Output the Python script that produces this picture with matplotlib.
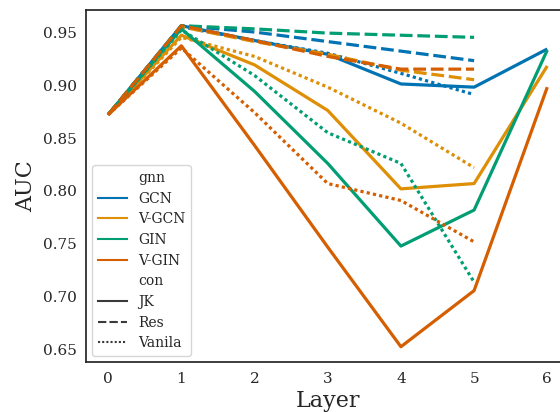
import matplotlib
matplotlib.use("Agg")
import matplotlib.pyplot as plt
from matplotlib.lines import Line2D

# AUC per layer
layers_jk = [0, 1, 2, 3, 4, 5, 6]
layers = [0, 1, 2, 3, 4, 5]

gcn_jk = [0.872, 0.956, 0.942, 0.929, 0.901, 0.898, 0.934]
gcn_res = [0.872, 0.956, 0.950, 0.941, 0.932, 0.923]
gcn_van = [0.872, 0.955, 0.942, 0.930, 0.911, 0.891]

vgcn_jk = [0.872, 0.947, 0.919, 0.876, 0.802, 0.807, 0.918]
vgcn_res = [0.872, 0.955, 0.941, 0.929, 0.914, 0.905]
vgcn_van = [0.872, 0.945, 0.927, 0.898, 0.864, 0.822]

gin_jk = [0.872, 0.953, 0.894, 0.826, 0.748, 0.782, 0.933]
gin_res = [0.872, 0.956, 0.953, 0.949, 0.947, 0.945]
gin_van = [0.872, 0.952, 0.909, 0.855, 0.826, 0.714]

vgin_jk = [0.872, 0.937, 0.843, 0.747, 0.653, 0.706, 0.898]
vgin_res = [0.872, 0.956, 0.942, 0.927, 0.915, 0.915]
vgin_van = [0.872, 0.935, 0.874, 0.807, 0.791, 0.752]

gnn_names = ["GCN", "V-GCN", "GIN", "V-GIN"]
con_names = ["JK", "Res", "Vanila"]
COLORS = ["#0173b2", "#de8f05", "#029e73", "#d55e00"]  # seaborn colorblind
DASHES = {"JK": (None, None), "Res": (4, 1.5), "Vanila": (1, 1)}

series = {
    "GCN": (gcn_jk, gcn_res, gcn_van),
    "V-GCN": (vgcn_jk, vgcn_res, vgcn_van),
    "GIN": (gin_jk, gin_res, gin_van),
    "V-GIN": (vgin_jk, vgin_res, vgin_van),
}

plt.rcParams["font.family"] = "DejaVu Serif"
TEXT = "#262626"

fig = plt.figure(figsize=(5.6, 4.12), dpi=100)
ax = fig.add_axes([0.154, 0.1214, 0.8625, 0.8543])

LW = 2.3
for name, color in zip(gnn_names, COLORS):
    for con, ys in zip(con_names, series[name]):
        xs = layers_jk if con == "JK" else layers
        line, = ax.plot(xs, ys, color=color, lw=LW, solid_capstyle="butt")
        if con != "JK":
            line.set_dashes(DASHES[con])

ax.set_xlim(-0.3, 6.3)
ax.set_ylim(0.6386, 0.9708)
ax.set_xticks(layers_jk)
ax.set_yticks([0.65, 0.70, 0.75, 0.80, 0.85, 0.90, 0.95])
ax.tick_params(length=0, pad=7, labelsize=11, labelcolor=TEXT)
ax.set_xlabel("Layer", fontsize=16, color=TEXT, labelpad=3)
ax.set_ylabel("AUC", fontsize=16, color=TEXT, labelpad=4)
for sp in ax.spines.values():
    sp.set_color(TEXT)
    sp.set_linewidth(1.25)

# seaborn-like legend with sub-titles
blank = Line2D([], [], color="none")
handles = [blank]
labels = ["gnn"]
for name, color in zip(gnn_names, COLORS):
    handles.append(Line2D([], [], color=color, lw=1.5))
    labels.append(name)
handles.append(blank)
labels.append("con")
for con in con_names:
    h = Line2D([], [], color="#3a3a3a", lw=1.5)
    if con != "JK":
        h.set_dashes(DASHES[con])
    handles.append(h)
    labels.append(con)
leg = ax.legend(handles, labels, loc="lower left", fontsize=10,
                frameon=True, fancybox=True, framealpha=0.8,
                borderaxespad=0.45, labelspacing=0.48, handlelength=2.1)
leg.get_frame().set_edgecolor("#cccccc")
for t in leg.get_texts():
    t.set_color(TEXT)

fig.savefig("out.png", dpi=100)
